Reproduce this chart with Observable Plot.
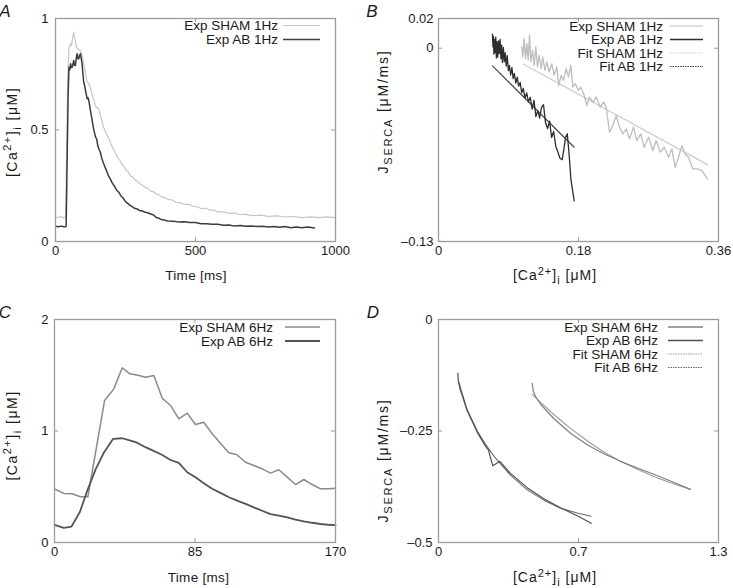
<!DOCTYPE html>
<html><head><meta charset="utf-8">
<script src="https://cdn.jsdelivr.net/npm/d3@7"></script>
<script src="https://cdn.jsdelivr.net/npm/@observablehq/plot@0.6"></script>
<style>
body{margin:0;background:#fff;}
#fig{position:relative;width:733px;height:588px;background:#fff;}
#fig svg{position:absolute;}
</style></head><body><div id="fig"></div>
<script>
// ---------- DATA ----------
// Panel A: [Ca2+]i (µM) vs time (ms), 1 Hz
const shamA = [[0,0.110],[10,0.107],[20,0.112],[30,0.106],[36,0.109],[40,0.45],[44,0.75],[48,0.87],[53,0.887],[57,0.878],[60,0.905],[65,0.939],[68,0.915],[71,0.900],[75,0.870],[80,0.866],[85,0.858],[89,0.857],[95,0.835],[101,0.797],[105,0.772],[109,0.745],[113,0.714],[118,0.712],[121,0.700],[125,0.690],[130,0.662],[137,0.632],[142,0.612],[146,0.600],[150,0.601],[155,0.594],[160,0.568],[165,0.546],[171,0.515],[178,0.492],[185,0.474],[192,0.457],[200,0.430],[208,0.412],[215,0.396],[222,0.376],[230,0.364],[238,0.346],[245,0.335],[252,0.320],[260,0.312],[268,0.294],[276,0.289],[284,0.275],[292,0.271],[300,0.260],[310,0.253],[320,0.243],[330,0.238],[340,0.226],[350,0.223],[360,0.213],[370,0.209],[380,0.199],[390,0.197],[400,0.189],[415,0.187],[430,0.176],[445,0.174],[460,0.166],[475,0.167],[490,0.158],[505,0.156],[520,0.148],[535,0.149],[550,0.141],[565,0.141],[580,0.133],[600,0.133],[620,0.126],[640,0.127],[660,0.120],[680,0.123],[700,0.116],[730,0.118],[760,0.113],[790,0.115],[820,0.110],[850,0.112],[880,0.107],[910,0.110],[940,0.107],[970,0.110],[1000,0.107]];
const abA = [[0,0.068],[10,0.066],[20,0.069],[30,0.066],[38,0.067],[42,0.40],[45,0.65],[48,0.782],[51,0.770],[54,0.797],[57,0.780],[60,0.782],[63,0.800],[65,0.812],[68,0.790],[71,0.789],[74,0.820],[77,0.842],[80,0.820],[83,0.819],[86,0.835],[89,0.842],[92,0.820],[95,0.797],[98,0.750],[101,0.714],[104,0.700],[107,0.677],[110,0.660],[113,0.640],[116,0.645],[119,0.632],[122,0.610],[125,0.587],[128,0.565],[131,0.543],[134,0.520],[137,0.498],[140,0.485],[143,0.468],[147,0.460],[151,0.430],[155,0.415],[160,0.400],[165,0.375],[170,0.355],[176,0.336],[182,0.318],[188,0.298],[195,0.282],[202,0.264],[210,0.249],[218,0.231],[226,0.221],[234,0.204],[242,0.194],[250,0.179],[258,0.171],[266,0.162],[274,0.156],[282,0.149],[290,0.147],[300,0.139],[310,0.137],[320,0.131],[330,0.129],[340,0.123],[350,0.119],[360,0.108],[370,0.104],[380,0.097],[390,0.096],[400,0.092],[420,0.091],[440,0.088],[460,0.089],[480,0.085],[500,0.085],[520,0.080],[540,0.080],[560,0.077],[580,0.077],[600,0.073],[620,0.074],[640,0.069],[660,0.072],[680,0.068],[700,0.069],[720,0.067],[740,0.068],[760,0.065],[780,0.067],[800,0.064],[820,0.067],[840,0.062],[860,0.065],[880,0.062],[900,0.065],[925,0.061]];

// Panel B: J_SERCA (µM/ms) vs [Ca2+]i (µM), 1 Hz
const expShamB = [[0.1071,0.0009],[0.1084,-0.0059],[0.1101,0.0065],[0.1119,-0.0070],[0.1136,0.0031],[0.1153,-0.0081],[0.1170,0.0088],[0.1187,-0.0092],[0.1209,-0.0014],[0.1230,-0.0115],[0.1251,0.0009],[0.1273,-0.0126],[0.1294,-0.0047],[0.1320,-0.0137],[0.1341,-0.0059],[0.1367,-0.0148],[0.1393,-0.0092],[0.1423,-0.0160],[0.1457,-0.0104],[0.1487,-0.0182],[0.1521,-0.0126],[0.1547,-0.0250],[0.1577,-0.0182],[0.1607,-0.0216],[0.1641,-0.0137],[0.1671,-0.0193],[0.1701,-0.0115],[0.1727,-0.0261],[0.1757,-0.0238],[0.1800,-0.0283],[0.1830,-0.0261],[0.1873,-0.0317],[0.1907,-0.0385],[0.1941,-0.0328],[0.1984,-0.0362],[0.2027,-0.0328],[0.2079,-0.0396],[0.2121,-0.0362],[0.2156,-0.0396],[0.2199,-0.0565],[0.2241,-0.0520],[0.2284,-0.0452],[0.2327,-0.0531],[0.2370,-0.0576],[0.2413,-0.0542],[0.2456,-0.0609],[0.2507,-0.0531],[0.2550,-0.0621],[0.2601,-0.0576],[0.2644,-0.0666],[0.2700,-0.0598],[0.2756,-0.0688],[0.2799,-0.0621],[0.2850,-0.0699],[0.2901,-0.0666],[0.2957,-0.0733],[0.3000,-0.0677],[0.3043,-0.0801],[0.3086,-0.0733],[0.3129,-0.0655],[0.3171,-0.0711],[0.3214,-0.0733],[0.3270,-0.0812],[0.3321,-0.0812],[0.3386,-0.0823],[0.3459,-0.0879]];
const expAbB = [[0.0694,0.0095],[0.0700,0.0010],[0.0706,0.0080],[0.0712,-0.0040],[0.0720,0.0060],[0.0728,-0.0030],[0.0736,0.0075],[0.0744,-0.0065],[0.0752,0.0045],[0.0762,-0.0060],[0.0772,0.0050],[0.0782,-0.0035],[0.0792,0.0060],[0.0802,-0.0070],[0.0812,0.0020],[0.0822,-0.0095],[0.0834,0.0005],[0.0846,-0.0090],[0.0858,-0.0030],[0.0870,-0.0120],[0.0884,-0.0050],[0.0898,-0.0150],[0.0912,-0.0115],[0.0928,-0.0180],[0.0944,-0.0130],[0.0960,-0.0205],[0.0976,-0.0170],[0.0994,-0.0235],[0.1012,-0.0195],[0.1030,-0.0255],[0.1050,-0.0230],[0.1070,-0.0300],[0.1090,-0.0270],[0.1112,-0.0335],[0.1134,-0.0300],[0.1156,-0.0360],[0.1180,-0.0330],[0.1204,-0.0410],[0.1228,-0.0350],[0.1252,-0.0460],[0.1276,-0.0420],[0.1300,-0.0470],[0.1324,-0.0400],[0.1350,-0.0380],[0.1376,-0.0500],[0.1402,-0.0540],[0.1428,-0.0490],[0.1454,-0.0600],[0.1480,-0.0560],[0.1508,-0.0660],[0.1536,-0.0700],[0.1562,-0.0740],[0.1590,-0.0750],[0.1612,-0.0680],[0.1634,-0.0600],[0.1656,-0.0575],[0.1680,-0.0720],[0.1702,-0.0880],[0.1744,-0.1026]];
const fitShamB = [[0.1093,-0.0108],[0.3459,-0.0783]];
const fitAbB = [[0.0694,-0.0119],[0.1744,-0.0666]];

// Panel C: [Ca2+]i (µM) vs time (ms), 6 Hz
const shamC = [[0,0.480],[5.6,0.440],[10.7,0.437],[15.7,0.410],[20.2,0.410],[30.3,1.274],[35.9,1.378],[41,1.567],[45.6,1.513],[50.5,1.500],[55,1.482],[60.1,1.498],[65.2,1.294],[70.2,1.229],[75.2,1.109],[80.3,1.160],[85.3,1.058],[90.3,1.079],[95.4,0.975],[100.4,0.890],[105.5,0.805],[110.1,0.789],[115.6,0.720],[120.6,0.690],[125.6,0.661],[130.7,0.622],[135.7,0.652],[140.8,0.586],[145.8,0.520],[150.8,0.565],[155.9,0.520],[160.9,0.481],[166,0.481],[170,0.487]];
const abC = [[0,0.159],[5.6,0.132],[10.3,0.143],[15.3,0.272],[20.2,0.480],[25,0.660],[30,0.810],[35.5,0.930],[41,0.935],[45.5,0.915],[50,0.895],[55,0.855],[60,0.822],[65.2,0.785],[70.2,0.740],[75.2,0.715],[80.3,0.630],[85.3,0.585],[90.3,0.532],[95.4,0.482],[100.4,0.445],[105.5,0.406],[110.5,0.375],[115.6,0.347],[120.6,0.315],[125.6,0.285],[130.7,0.255],[135.7,0.240],[140.8,0.225],[145.8,0.205],[150.8,0.190],[155.9,0.177],[161,0.166],[166,0.159],[170,0.156]];

// Panel D: J_SERCA (µM/ms) vs [Ca2+]i (µM), 6 Hz
const expShamD = [[0.435,-0.143],[0.440,-0.160],[0.450,-0.172],[0.474,-0.190],[0.535,-0.222],[0.613,-0.255],[0.690,-0.281],[0.767,-0.301],[0.845,-0.318],[0.923,-0.333],[1.000,-0.347],[1.077,-0.362],[1.170,-0.381]];
const expAbD = [[0.0897,-0.120],[0.092,-0.138],[0.100,-0.156],[0.133,-0.204],[0.180,-0.253],[0.218,-0.284],[0.232,-0.293],[0.252,-0.328],[0.285,-0.318],[0.334,-0.345],[0.412,-0.377],[0.489,-0.402],[0.566,-0.422],[0.644,-0.440],[0.709,-0.457]];
const fitShamD = [[0.435,-0.168],[0.474,-0.186],[0.535,-0.213],[0.613,-0.244],[0.690,-0.272],[0.767,-0.297],[0.845,-0.318],[0.923,-0.336],[1.000,-0.352],[1.077,-0.366],[1.170,-0.381]];
const fitAbD = [[0.094,-0.140],[0.133,-0.202],[0.180,-0.250],[0.218,-0.280],[0.260,-0.308],[0.334,-0.349],[0.412,-0.382],[0.489,-0.405],[0.566,-0.423],[0.644,-0.434],[0.709,-0.441]];

// Tick values and labels
const xTicksA = [0, 500, 1000], xLabelsA = ["0", "500", "1000"];
const yTicksA = [0, 0.5, 1], yLabelsA = ["0", "0.5", "1"];
const xTicksB = [0, 0.18, 0.36], xLabelsB = ["0", "0.18", "0.36"];
const yTicksB = [-0.13, 0, 0.02], yLabelsB = ["–0.13", "0", "0.02"];
const xTicksC = [0, 85, 170], xLabelsC = ["0", "85", "170"];
const yTicksC = [0, 1, 2], yLabelsC = ["0", "1", "2"];
const xTicksD = [0, 0.65, 1.3], xLabelsD = ["0", "0.7", "1.3"];
const yTicksD = [-0.5, -0.25, 0], yLabelsD = ["–0.5", "–0.25", "0"];

// Text
const caLabel = [["[Ca"], ["2+", "sup"], ["]"], ["i", "sub"], [" [μM]"]];
const jLabel = [["J"], ["SERCA", "sub"], [" [μM/ms]"]];
const timeLabel = [["Time [ms]"]];

// ---------- HELPERS ----------
const FONT = "'Liberation Sans', Arial, Helvetica, sans-serif";
const INK = "#1a1a1a";
const FRAME = "#9c9c9c";

function richText(sel, parts, small) {
  let shift = 0;
  for (const [s, kind] of parts) {
    const target = kind === "sup" ? -5.5 : kind === "sub" ? 4 : 0;
    const ts = sel.append("tspan").attr("dy", target - shift).text(s);
    if (kind) ts.attr("font-size", small + "px");
    shift = target;
  }
}

function decorMark(cfg) {
  return (index, scales, values, dims) => {
    const g = d3.create("svg:g").attr("font-family", FONT).attr("font-size", "13.5px").attr("fill", INK);
    const L = dims.marginLeft, R = dims.width - dims.marginRight;
    const T = dims.marginTop, B = dims.height - dims.marginBottom;
    // legend
    cfg.legend.forEach((e, i) => {
      const y = T + cfg.legTop + i * cfg.legGap;
      g.append("text").attr("x", R - cfg.legText).attr("y", y).attr("dy", "0.36em")
        .attr("text-anchor", "end").text(e.label);
      g.append("line").attr("x1", R - cfg.legLine[0]).attr("x2", R - cfg.legLine[1])
        .attr("y1", y).attr("y2", y).attr("stroke", e.stroke).attr("stroke-width", e.width)
        .attr("stroke-dasharray", e.dash || null);
    });
    // x label
    const xt = g.append("text").attr("text-anchor", "middle").attr("font-size", cfg.xlabSize + "px")
      .attr("letter-spacing", cfg.xlabSpacing + "px")
      .attr("x", (L + R) / 2 + cfg.xlabDx).attr("y", B + cfg.xlabDy);
    richText(xt, cfg.xlab, 11);
    // y label
    const yg = g.append("g").attr("transform", `translate(${L - cfg.ylabDx},${(T + B) / 2 + cfg.ylabDy}) rotate(-90)`);
    const yt = yg.append("text").attr("text-anchor", "middle").attr("font-size", "14px").attr("letter-spacing", cfg.ylabSpacing + "px");
    richText(yt, cfg.ylab, 11);
    // panel letter
    g.append("text").attr("x", cfg.letterX).attr("y", cfg.letterY).attr("font-size", "17px")
      .attr("font-style", "italic").text(cfg.letter);
    return g.node();
  };
}

function panel(cfg) {
  const fw = cfg.width - cfg.ml - cfg.mr, fh = cfg.height - cfg.mt - cfg.mb;
  const xMap = new Map(cfg.xTicks.map((t, i) => [t, cfg.xLabels[i]]));
  const yMap = new Map(cfg.yTicks.map((t, i) => [t, cfg.yLabels[i]]));
  const tk = 4;
  const svg = Plot.plot({
    width: cfg.width, height: cfg.height,
    marginLeft: cfg.ml, marginRight: cfg.mr, marginTop: cfg.mt, marginBottom: cfg.mb,
    x: {domain: cfg.xDomain},
    y: {domain: cfg.yDomain},
    style: {fontFamily: FONT, fontSize: "13px", color: INK, background: "transparent", overflow: "visible"},
    marks: [
      Plot.ruleX(cfg.xTicks, {stroke: FRAME, insetTop: fh - tk}),
      Plot.ruleX(cfg.xTicks, {stroke: FRAME, insetBottom: fh - tk}),
      Plot.ruleY(cfg.yTicks, {stroke: FRAME, insetRight: fw - tk}),
      Plot.ruleY(cfg.yTicks, {stroke: FRAME, insetLeft: fw - tk}),
      Plot.axisX({ticks: cfg.xTicks, tickFormat: d => xMap.get(d), tickSize: 0, tickPadding: 4, label: null, fill: INK}),
      Plot.axisY({ticks: cfg.yTicks, tickFormat: d => yMap.get(d), tickSize: 0, tickPadding: cfg.yPad, label: null, fill: INK}),
      ...cfg.series.map(s => Plot.line(s.data, {x: d => d[0], y: d => d[1], stroke: s.stroke, strokeWidth: s.width, strokeLinejoin: "round"})),
      Plot.frame({stroke: FRAME, strokeWidth: 1.3}),
      decorMark(cfg)
    ]
  });
  svg.style.left = cfg.left + "px";
  svg.style.top = cfg.top + "px";
  document.getElementById("fig").appendChild(svg);
}

// ---------- PANELS ----------
const cShamA = "#c6c6c6", cAbA = "#3c3c3c";
panel({
  left: 0, top: 0, width: 366, height: 294, ml: 55, mr: 31, mt: 18, mb: 53,
  xDomain: [0, 1000], yDomain: [0, 1], xTicks: xTicksA, xLabels: xLabelsA, yTicks: yTicksA, yLabels: yLabelsA, yPad: 7,
  series: [{data: shamA, stroke: cShamA, width: 1.2}, {data: abA, stroke: cAbA, width: 1.5}],
  legend: [{label: "Exp SHAM 1Hz", stroke: cShamA, width: 1.2}, {label: "Exp AB 1Hz", stroke: cAbA, width: 1.5}],
  legTop: 7.5, legGap: 14, legText: 57, legLine: [52, 15],
  xlab: timeLabel, xlabSize: 13.5, xlabSpacing: 0.3, xlabDx: 1, xlabDy: 39,
  ylab: caLabel, ylabSpacing: 1.5, ylabDx: 38.5, ylabDy: 2.5,
  letter: "A", letterX: 5, letterY: 17
});

const cExpShamB = "#bdbdbd", cExpAbB = "#2e2e2e", cFitShamB = "#cdcdcd", cFitAbB = "#444444";
panel({
  left: 366, top: 0, width: 367, height: 294, ml: 72, mr: 15, mt: 18, mb: 53,
  xDomain: [0, 0.36], yDomain: [-0.13, 0.02], xTicks: xTicksB, xLabels: xLabelsB, yTicks: yTicksB, yLabels: yLabelsB, yPad: 5,
  series: [{data: fitShamB, stroke: cFitShamB, width: 1.2}, {data: expShamB, stroke: cExpShamB, width: 1.3},
           {data: fitAbB, stroke: cFitAbB, width: 1.1}, {data: expAbB, stroke: cExpAbB, width: 1.3}],
  legend: [{label: "Exp SHAM 1Hz", stroke: cExpShamB, width: 1.2}, {label: "Exp AB 1Hz", stroke: cExpAbB, width: 1.5},
           {label: "Fit SHAM 1Hz", stroke: cFitShamB, width: 1.2, dash: "1.5,1"}, {label: "Fit AB 1Hz", stroke: cFitAbB, width: 1.2, dash: "1.5,1"}],
  legTop: 8, legGap: 13.5, legText: 55, legLine: [48, 15],
  xlab: caLabel, xlabSize: 14, xlabSpacing: 1, xlabDx: -23, xlabDy: 39,
  ylab: jLabel, ylabSpacing: 1.8, ylabDx: 50.5, ylabDy: -18,
  letter: "B", letterX: 6, letterY: 17
});

const cShamC = "#8a8a8a", cAbC = "#545454";
panel({
  left: 0, top: 294, width: 366, height: 294, ml: 54, mr: 31, mt: 25, mb: 46,
  xDomain: [0, 170], yDomain: [0, 2], xTicks: xTicksC, xLabels: xLabelsC, yTicks: yTicksC, yLabels: yLabelsC, yPad: 6,
  series: [{data: shamC, stroke: cShamC, width: 1.5}, {data: abC, stroke: cAbC, width: 1.8}],
  legend: [{label: "Exp SHAM 6Hz", stroke: cShamC, width: 1.5}, {label: "Exp AB 6Hz", stroke: cAbC, width: 1.8}],
  legTop: 8, legGap: 14, legText: 62, legLine: [50, 15],
  xlab: timeLabel, xlabSize: 13.5, xlabSpacing: 0.3, xlabDx: 4, xlabDy: 40,
  ylab: caLabel, ylabSpacing: 1.5, ylabDx: 37.5, ylabDy: 5,
  letter: "C", letterX: 5, letterY: 24
});

const cExpShamD = "#808080", cExpAbD = "#505050", cFitShamD = "#9a9a9a", cFitAbD = "#6a6a6a";
panel({
  left: 366, top: 294, width: 367, height: 294, ml: 72, mr: 15, mt: 25, mb: 46,
  xDomain: [0, 1.3], yDomain: [-0.5, 0], xTicks: xTicksD, xLabels: xLabelsD, yTicks: yTicksD, yLabels: yLabelsD, yPad: 6,
  series: [{data: fitShamD, stroke: cFitShamD, width: 1.1}, {data: expShamD, stroke: cExpShamD, width: 1.2},
           {data: fitAbD, stroke: cFitAbD, width: 1.1}, {data: expAbD, stroke: cExpAbD, width: 1.2}],
  legend: [{label: "Exp SHAM 6Hz", stroke: cExpShamD, width: 1.3}, {label: "Exp AB 6Hz", stroke: cExpAbD, width: 1.5},
           {label: "Fit SHAM 6Hz", stroke: cFitShamD, width: 1.1, dash: "1.5,1"}, {label: "Fit AB 6Hz", stroke: cFitAbD, width: 1.1, dash: "1.5,1"}],
  legTop: 8, legGap: 13.5, legText: 60, legLine: [50, 15],
  xlab: caLabel, xlabSize: 14, xlabSpacing: 1, xlabDx: -23, xlabDy: 40,
  ylab: jLabel, ylabSpacing: 1.8, ylabDx: 50.5, ylabDy: 30,
  letter: "D", letterX: 7, letterY: 24
});
</script></body></html>
